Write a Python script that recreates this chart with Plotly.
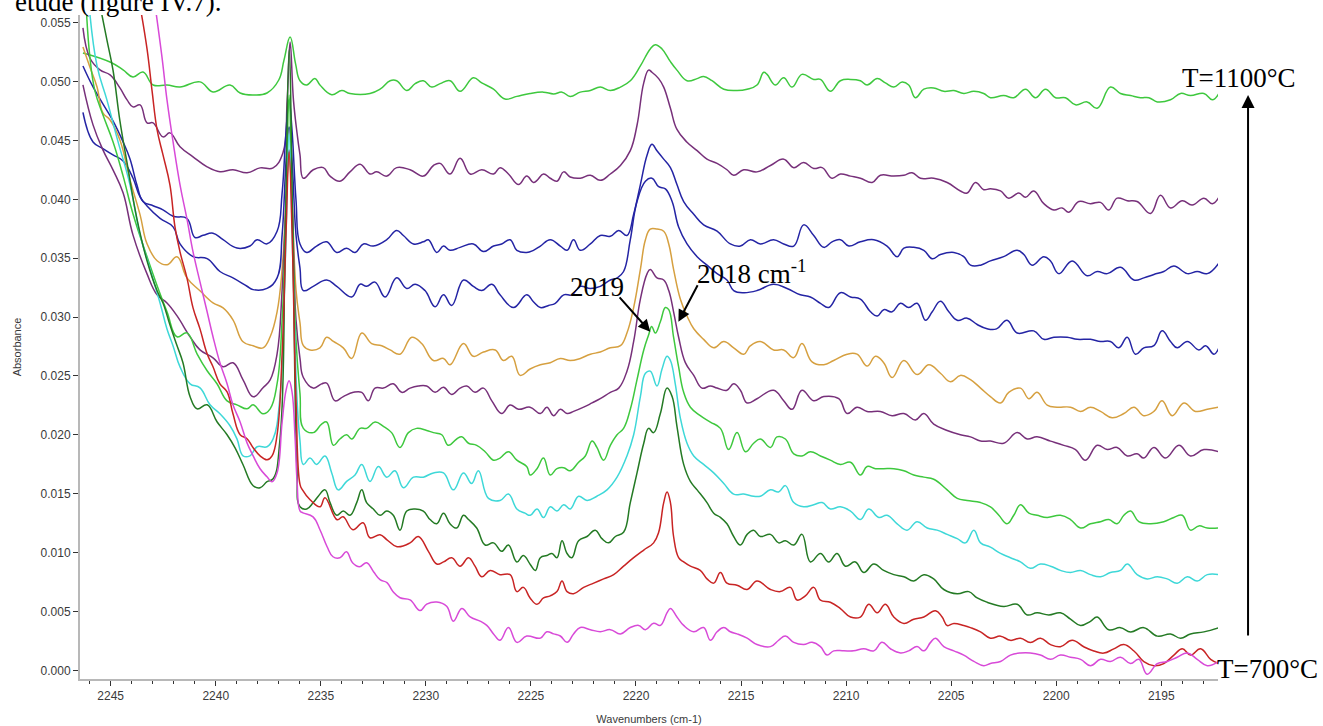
import plotly.graph_objects as go

# ---------------- data ----------------
# wavenumbers (cm-1) and absorbance for each spectrum, top (1100 C) to bottom (700 C)
wn_t1 = [2246.32, 2245.03, 2244.41, 2243.94, 2243.46, 2242.98, 2242.32, 2241.70, 2240.75, 2240.13,
         2239.32, 2238.84, 2238.22, 2237.56, 2237.0, 2236.75, 2236.46, 2236.2, 2235.99, 2235.67,
         2235.28, 2235.04, 2234.48, 2234.0, 2233.61, 2232.66, 2232.18, 2231.70, 2231.39, 2230.91,
         2230.51, 2230.12, 2229.72, 2229.32, 2228.85, 2228.37, 2227.74, 2227.34, 2226.78, 2226.23,
         2225.67, 2225.04, 2224.40, 2223.92, 2223.52, 2223.13, 2222.65, 2222.17, 2221.70, 2221.22,
         2220.74, 2220.27, 2219.79, 2219.32, 2219.08, 2218.76, 2218.36, 2218.05, 2217.57, 2217.09,
         2216.78, 2216.38, 2215.82, 2215.19, 2214.71, 2214.24, 2213.92, 2213.76, 2213.37, 2212.97,
         2212.57, 2212.10, 2211.54, 2211.22, 2210.75, 2210.27, 2209.79, 2209.32, 2209.0, 2208.52,
         2208.13, 2207.73, 2207.33, 2207.02, 2206.70, 2206.30, 2205.83, 2205.35, 2204.87, 2204.40,
         2203.92, 2203.45, 2203.13, 2202.50, 2202.02, 2201.46, 2200.99, 2200.51, 2200.03, 2199.56,
         2199.08, 2198.53, 2198.05, 2197.42, 2196.94, 2196.46, 2195.99, 2195.59, 2195.19, 2194.56,
         2194.08, 2193.61, 2192.97, 2192.57, 2192.26]
ab_t1 = [0.05243, 0.05166, 0.05099, 0.05039, 0.05081, 0.04971, 0.04971, 0.04954, 0.04997, 0.04912,
         0.04971, 0.04903, 0.04886, 0.04903, 0.05013, 0.05183, 0.05379, 0.05150, 0.05007, 0.04971,
         0.05025, 0.04971, 0.04888, 0.04924, 0.04899, 0.04899, 0.04935, 0.05007, 0.05007, 0.04924,
         0.04982, 0.05007, 0.04953, 0.04982, 0.05007, 0.04917, 0.05032, 0.04989, 0.04935, 0.04852,
         0.04874, 0.04899, 0.04910, 0.04895, 0.04910, 0.04874, 0.04910, 0.04924, 0.04953, 0.04924,
         0.04953, 0.05007, 0.05133, 0.05277, 0.05313, 0.05277, 0.05169, 0.05097, 0.05007, 0.05025,
         0.05043, 0.05007, 0.04935, 0.04924, 0.04935, 0.04971, 0.05079, 0.05061, 0.04971, 0.05032,
         0.04953, 0.05061, 0.05018, 0.05018, 0.04917, 0.05007, 0.05018, 0.05007, 0.04971, 0.05025,
         0.04989, 0.04953, 0.04996, 0.04971, 0.04863, 0.04935, 0.04946, 0.04917, 0.04924, 0.04899,
         0.04917, 0.04899, 0.04863, 0.04881, 0.04863, 0.04935, 0.04863, 0.04935, 0.04863, 0.04863,
         0.04802, 0.04827, 0.04773, 0.04953, 0.04899, 0.04881, 0.04863, 0.04863, 0.04827, 0.04845,
         0.04899, 0.04881, 0.04899, 0.04845, 0.04899]

wn_t2 = [2246.32, 2245.99, 2245.51, 2245.03, 2244.56, 2244.22, 2243.94, 2243.60, 2243.27, 2242.98,
         2242.51, 2242.18, 2241.70, 2241.08, 2240.41, 2239.80, 2239.18, 2238.51, 2237.89, 2237.27,
         2236.80, 2236.6, 2236.46, 2236.3, 2236.1, 2235.99, 2235.83, 2235.36, 2234.88, 2234.56,
         2234.09, 2233.61, 2233.13, 2232.66, 2232.34, 2231.86, 2231.39, 2230.75, 2230.12, 2229.64,
         2229.32, 2228.85, 2228.37, 2227.89, 2227.34, 2226.78, 2226.47, 2226.07, 2225.59, 2225.20,
         2224.88, 2224.71, 2224.40, 2224.08, 2223.76, 2223.44, 2223.13, 2222.65, 2222.17, 2221.70,
         2221.22, 2220.74, 2220.27, 2219.95, 2219.63, 2219.40, 2219.24, 2218.92, 2218.68, 2218.36,
         2218.05, 2217.57, 2217.09, 2216.62, 2216.14, 2215.67, 2215.35, 2214.87, 2214.24, 2213.60,
         2212.97, 2212.49, 2212.02, 2211.54, 2211.14, 2210.67, 2210.27, 2209.79, 2209.32, 2208.76,
         2208.37, 2207.73, 2207.25, 2206.86, 2206.46, 2205.83, 2205.19, 2204.56, 2204.24, 2203.84,
         2203.45, 2203.13, 2202.65, 2202.26, 2201.78, 2201.46, 2201.07, 2200.59, 2200.11, 2199.72,
         2199.40, 2198.92, 2198.37, 2197.89, 2197.50, 2197.10, 2196.62, 2196.15, 2195.51, 2195.04,
         2194.56, 2194.00, 2193.53, 2192.97, 2192.57, 2192.26]
ab_t2 = [0.05455, 0.05200, 0.05099, 0.05056, 0.04946, 0.04844, 0.04785, 0.04802, 0.04649, 0.04649,
         0.04530, 0.04564, 0.04446, 0.04361, 0.04276, 0.04234, 0.04251, 0.04225, 0.04267, 0.04267,
         0.04395, 0.04844, 0.05336, 0.04840, 0.04520, 0.04377, 0.04179, 0.04251, 0.04269, 0.04197,
         0.04154, 0.04233, 0.04298, 0.04215, 0.04233, 0.04197, 0.04269, 0.04251, 0.04197, 0.04287,
         0.04305, 0.04215, 0.04348, 0.04215, 0.04251, 0.04215, 0.04269, 0.04215, 0.04125, 0.04197,
         0.04143, 0.04161, 0.04215, 0.04179, 0.04154, 0.04233, 0.04190, 0.04179, 0.04204, 0.04161,
         0.04215, 0.04287, 0.04413, 0.04629, 0.04989, 0.05097, 0.05079, 0.05025, 0.04953, 0.04773,
         0.04593, 0.04485, 0.04413, 0.04341, 0.04305, 0.04251, 0.04204, 0.04251, 0.04233, 0.04287,
         0.04341, 0.04269, 0.04312, 0.04262, 0.04269, 0.04179, 0.04215, 0.04197, 0.04179, 0.04143,
         0.04204, 0.04197, 0.04204, 0.04226, 0.04179, 0.04179, 0.04143, 0.04071, 0.04053, 0.04143,
         0.04082, 0.04089, 0.04071, 0.04010, 0.04053, 0.04017, 0.04071, 0.03963, 0.03909, 0.03927,
         0.03891, 0.03981, 0.03963, 0.03974, 0.03909, 0.04010, 0.03988, 0.03981, 0.03880, 0.04035,
         0.03927, 0.03988, 0.03952, 0.04010, 0.03963, 0.04017]

wn_t3 = [2246.32, 2245.84, 2245.37, 2244.89, 2244.41, 2244.08, 2243.75, 2243.46, 2242.98, 2242.51,
         2242.03, 2241.37, 2240.99, 2240.60, 2240.13, 2239.65, 2238.99, 2238.37, 2238.03, 2237.56,
         2237.08, 2236.84, 2236.65, 2236.51, 2236.37, 2236.18, 2235.99, 2235.67, 2235.20, 2234.72,
         2234.24, 2233.77, 2233.37, 2232.97, 2232.50, 2231.86, 2231.39, 2231.07, 2230.59, 2230.12,
         2229.88, 2229.48, 2229.16, 2228.85, 2228.37, 2227.74, 2227.26, 2226.78, 2226.39, 2225.99,
         2225.67, 2225.20, 2224.88, 2224.55, 2224.08, 2223.60, 2223.28, 2222.97, 2222.65, 2222.17,
         2221.70, 2221.22, 2220.82, 2220.43, 2220.11, 2219.79, 2219.47, 2219.24, 2219.0, 2218.68,
         2218.36, 2218.05, 2217.73, 2217.25, 2216.78, 2216.14, 2215.51, 2215.03, 2214.55, 2214.08,
         2213.45, 2212.97, 2212.49, 2212.02, 2211.54, 2211.06, 2210.67, 2210.27, 2209.87, 2209.32,
         2208.68, 2208.05, 2207.57, 2207.25, 2206.78, 2206.30, 2205.90, 2205.51, 2204.87, 2204.40,
         2204.08, 2203.60, 2203.13, 2202.50, 2201.86, 2201.54, 2201.15, 2200.59, 2200.27, 2199.88,
         2199.24, 2198.53, 2198.05, 2197.57, 2196.94, 2196.30, 2195.83, 2195.35, 2194.88, 2194.40,
         2193.76, 2193.29, 2192.81, 2192.26]
ab_t3 = [0.05132, 0.04954, 0.04810, 0.04666, 0.04488, 0.04343, 0.04122, 0.03982, 0.03945, 0.03911,
         0.03856, 0.03837, 0.03676, 0.03694, 0.03712, 0.03657, 0.03586, 0.03604, 0.03657, 0.03622,
         0.03729, 0.04055, 0.04589, 0.04844, 0.04589, 0.03995, 0.03621, 0.03549, 0.03603, 0.03639,
         0.03549, 0.03585, 0.03549, 0.03621, 0.03603, 0.03657, 0.03736, 0.03693, 0.03621, 0.03639,
         0.03657, 0.03549, 0.03603, 0.03567, 0.03592, 0.03621, 0.03556, 0.03603, 0.03621, 0.03657,
         0.03567, 0.03549, 0.03567, 0.03603, 0.03657, 0.03603, 0.03567, 0.03657, 0.03567, 0.03621,
         0.03693, 0.03686, 0.03736, 0.03693, 0.03873, 0.04125, 0.04377, 0.04467, 0.04413, 0.04341,
         0.04269, 0.04125, 0.03981, 0.03873, 0.03783, 0.03729, 0.03621, 0.03603, 0.03657, 0.03621,
         0.03657, 0.03621, 0.03603, 0.03783, 0.03693, 0.03592, 0.03639, 0.03657, 0.03603, 0.03639,
         0.03657, 0.03603, 0.03513, 0.03585, 0.03592, 0.03567, 0.03495, 0.03531, 0.03549, 0.03513,
         0.03441, 0.03441, 0.03477, 0.03513, 0.03567, 0.03531, 0.03441, 0.03513, 0.03477, 0.03369,
         0.03477, 0.03351, 0.03387, 0.03369, 0.03423, 0.03315, 0.03333, 0.03362, 0.03387, 0.03434,
         0.03369, 0.03387, 0.03369, 0.03459]

wn_t4 = [2246.32, 2245.84, 2245.37, 2244.89, 2244.41, 2243.94, 2243.60, 2243.27, 2242.65, 2242.03,
         2241.70, 2241.08, 2240.41, 2239.80, 2239.18, 2238.51, 2238.22, 2237.56, 2237.08, 2236.84,
         2236.65, 2236.51, 2236.37, 2236.18, 2235.99, 2235.83, 2235.36, 2234.72, 2234.24, 2233.53,
         2233.13, 2232.82, 2232.42, 2231.94, 2231.39, 2230.91, 2230.51, 2230.04, 2229.56, 2229.16,
         2228.77, 2228.21, 2227.74, 2227.34, 2226.86, 2226.47, 2225.83, 2225.20, 2224.88, 2224.55,
         2224.16, 2223.84, 2223.44, 2223.05, 2222.65, 2222.17, 2221.70, 2221.22, 2220.90, 2220.59,
         2220.27, 2219.95, 2219.55, 2219.24, 2218.92, 2218.60, 2218.28, 2217.97, 2217.57, 2217.09,
         2216.62, 2216.14, 2215.67, 2215.35, 2214.87, 2214.24, 2213.45, 2212.81, 2212.18, 2211.70,
         2211.22, 2210.83, 2210.27, 2209.79, 2209.32, 2208.84, 2208.52, 2208.21, 2207.81, 2207.41,
         2207.02, 2206.62, 2206.22, 2205.90, 2205.51, 2205.11, 2204.71, 2204.24, 2203.76, 2203.29,
         2202.84, 2202.34, 2201.86, 2201.07, 2200.59, 2200.11, 2199.48, 2199.00, 2198.37, 2197.89,
         2197.42, 2197.02, 2196.62, 2196.23, 2195.83, 2195.35, 2194.96, 2194.56, 2194.24, 2193.76,
         2193.21, 2192.89, 2192.49, 2192.26]
ab_t4 = [0.04738, 0.04487, 0.04431, 0.04377, 0.04326, 0.04181, 0.04020, 0.03944, 0.03838, 0.03766,
         0.03621, 0.03514, 0.03496, 0.03387, 0.03333, 0.03262, 0.03233, 0.03244, 0.03333, 0.03698,
         0.04335, 0.04614, 0.04335, 0.03698, 0.03416, 0.03225, 0.03261, 0.03315, 0.03261, 0.03171,
         0.03279, 0.03261, 0.03297, 0.03171, 0.03333, 0.03243, 0.03279, 0.03225, 0.03088, 0.03189,
         0.03099, 0.03315, 0.03261, 0.03225, 0.03279, 0.03189, 0.03081, 0.03189, 0.03130, 0.03081,
         0.03099, 0.03117, 0.03189, 0.03189, 0.03261, 0.03243, 0.03261, 0.03315, 0.03333, 0.03387,
         0.03657, 0.03981, 0.04154, 0.04179, 0.04107, 0.04089, 0.03981, 0.03765, 0.03621, 0.03513,
         0.03441, 0.03369, 0.03315, 0.03225, 0.03207, 0.03225, 0.03279, 0.03243, 0.03189, 0.03171,
         0.03117, 0.03081, 0.03207, 0.03171, 0.03153, 0.03045, 0.03009, 0.03063, 0.03045, 0.03117,
         0.03081, 0.03117, 0.02973, 0.03045, 0.03135, 0.03045, 0.02973, 0.02991, 0.02937, 0.02901,
         0.02900, 0.02973, 0.02865, 0.02883, 0.02811, 0.02829, 0.02829, 0.02811, 0.02811, 0.02793,
         0.02793, 0.02739, 0.02829, 0.02685, 0.02739, 0.02757, 0.02883, 0.02793, 0.02739, 0.02793,
         0.02721, 0.02757, 0.02685, 0.02739]

wn_t5 = [2246.32, 2245.99, 2245.65, 2245.37, 2245.03, 2244.56, 2244.08, 2243.60, 2243.27, 2242.79,
         2242.32, 2241.84, 2241.37, 2240.75, 2240.13, 2239.65, 2239.18, 2238.70, 2238.22, 2237.75,
         2237.41, 2237.08, 2236.84, 2236.65, 2236.51, 2236.37, 2236.18, 2235.99, 2235.83, 2235.51,
         2235.04, 2234.72, 2234.40, 2233.93, 2233.53, 2233.05, 2232.58, 2232.10, 2231.70, 2231.23,
         2230.67, 2230.20, 2229.64, 2229.16, 2228.85, 2228.21, 2227.74, 2227.26, 2226.70, 2226.31,
         2225.91, 2225.51, 2225.04, 2224.55, 2224.08, 2223.60, 2223.13, 2222.65, 2222.17, 2221.70,
         2221.22, 2220.74, 2220.43, 2220.11, 2219.79, 2219.55, 2219.32, 2219.0, 2218.68, 2218.44,
         2218.21, 2217.89, 2217.57, 2217.25, 2216.78, 2216.30, 2215.82, 2215.35, 2214.87, 2214.55,
         2214.08, 2213.45, 2212.97, 2212.49, 2212.10, 2211.62, 2211.06, 2210.59, 2209.95, 2209.48,
         2209.0, 2208.60, 2208.21, 2207.81, 2207.25, 2206.62, 2206.06, 2205.51, 2205.03, 2204.56,
         2204.08, 2203.60, 2203.13, 2202.65, 2202.26, 2201.70, 2201.30, 2200.91, 2200.43, 2199.96,
         2199.32, 2198.84, 2198.37, 2197.89, 2197.34, 2196.78, 2196.30, 2195.83, 2195.35, 2194.96,
         2194.48, 2193.92, 2193.37, 2192.81, 2192.26]
ab_t5 = [0.05293, 0.05124, 0.04954, 0.04733, 0.04674, 0.04504, 0.04165, 0.03868, 0.03622, 0.03478,
         0.03444, 0.03512, 0.03333, 0.03223, 0.03121, 0.03078, 0.02977, 0.02790, 0.02756, 0.02739,
         0.02833, 0.03045, 0.03409, 0.03995, 0.04376, 0.03995, 0.03231, 0.02950, 0.02757, 0.02721,
         0.02739, 0.02829, 0.02793, 0.02739, 0.02649, 0.02865, 0.02775, 0.02757, 0.02721, 0.02685,
         0.02829, 0.02775, 0.02631, 0.02649, 0.02595, 0.02775, 0.02667, 0.02703, 0.02721, 0.02631,
         0.02667, 0.02505, 0.02559, 0.02595, 0.02613, 0.02649, 0.02631, 0.02649, 0.02685, 0.02703,
         0.02739, 0.02757, 0.02865, 0.03081, 0.03405, 0.03657, 0.03747, 0.03747, 0.03729, 0.03621,
         0.03405, 0.03153, 0.03009, 0.02901, 0.02811, 0.02739, 0.02793, 0.02739, 0.02685, 0.02757,
         0.02793, 0.02721, 0.02721, 0.02656, 0.02775, 0.02620, 0.02595, 0.02631, 0.02685, 0.02685,
         0.02584, 0.02667, 0.02613, 0.02487, 0.02631, 0.02512, 0.02595, 0.02523, 0.02451, 0.02505,
         0.02469, 0.02397, 0.02325, 0.02271, 0.02361, 0.02397, 0.02307, 0.02361, 0.02253, 0.02235,
         0.02235, 0.02199, 0.02235, 0.02199, 0.02145, 0.02181, 0.02235, 0.02163, 0.02199, 0.02289,
         0.02163, 0.02271, 0.02199, 0.02217, 0.02235]

wn_t6 = [2246.32, 2245.84, 2245.37, 2244.89, 2244.41, 2243.94, 2243.27, 2242.79, 2242.32, 2241.84,
         2241.22, 2240.75, 2240.13, 2239.65, 2239.18, 2238.70, 2238.22, 2237.75, 2237.41, 2237.08,
         2236.84, 2236.65, 2236.51, 2236.37, 2236.18, 2235.99, 2235.83, 2235.36, 2234.96, 2234.72,
         2234.32, 2233.93, 2233.45, 2233.05, 2232.74, 2232.42, 2232.02, 2231.55, 2231.15, 2230.75,
         2230.36, 2229.96, 2229.56, 2229.16, 2228.77, 2228.37, 2228.05, 2227.66, 2227.26, 2226.86,
         2226.39, 2225.99, 2225.59, 2225.04, 2224.55, 2224.24, 2223.92, 2223.60, 2223.28, 2222.97,
         2222.49, 2222.09, 2221.70, 2221.22, 2220.82, 2220.43, 2220.11, 2219.79, 2219.47, 2219.32,
         2219.0, 2218.68, 2218.44, 2218.21, 2217.97, 2217.65, 2217.25, 2216.86, 2216.46, 2216.14,
         2215.67, 2215.35, 2215.03, 2214.71, 2214.24, 2213.45, 2212.97, 2212.57, 2212.10, 2211.54,
         2211.06, 2210.35, 2209.95, 2209.48, 2209.0, 2208.37, 2207.81, 2207.25, 2206.70, 2206.30,
         2205.83, 2205.19, 2204.56, 2204.08, 2203.60, 2203.13, 2202.50, 2201.86, 2201.38, 2200.91,
         2200.27, 2199.64, 2199.08, 2198.61, 2198.05, 2197.57, 2197.10, 2196.62, 2196.15, 2195.83,
         2195.35, 2194.80, 2194.16, 2193.61, 2192.97, 2192.26]
ab_t6 = [0.04972, 0.04632, 0.04420, 0.04250, 0.04055, 0.03698, 0.03367, 0.03189, 0.03120, 0.03010,
         0.02832, 0.02722, 0.02654, 0.02578, 0.02612, 0.02467, 0.02323, 0.02400, 0.02467, 0.02688,
         0.03231, 0.03995, 0.04419, 0.03995, 0.02977, 0.02650, 0.02487, 0.02397, 0.02433, 0.02440,
         0.02289, 0.02325, 0.02361, 0.02361, 0.02289, 0.02397, 0.02397, 0.02433, 0.02361, 0.02397,
         0.02415, 0.02415, 0.02361, 0.02404, 0.02343, 0.02397, 0.02415, 0.02361, 0.02397, 0.02289,
         0.02181, 0.02253, 0.02217, 0.02235, 0.02181, 0.02235, 0.02163, 0.02217, 0.02181, 0.02199,
         0.02235, 0.02271, 0.02307, 0.02361, 0.02397, 0.02541, 0.02793, 0.03153, 0.03369, 0.03405,
         0.03333, 0.03315, 0.03225, 0.03045, 0.02829, 0.02613, 0.02505, 0.02397, 0.02415, 0.02397,
         0.02379, 0.02433, 0.02379, 0.02271, 0.02307, 0.02379, 0.02289, 0.02217, 0.02379, 0.02289,
         0.02325, 0.02307, 0.02181, 0.02235, 0.02199, 0.02199, 0.02163, 0.02181, 0.02127, 0.02181,
         0.02091, 0.02037, 0.02001, 0.01983, 0.01947, 0.01947, 0.01929, 0.02019, 0.01965, 0.01983,
         0.01947, 0.01911, 0.01875, 0.01785, 0.01911, 0.01875, 0.01893, 0.01821, 0.01839, 0.01803,
         0.01893, 0.01803, 0.01911, 0.01821, 0.01875, 0.01857]

wn_t7 = [2246.17, 2245.99, 2245.75, 2245.37, 2244.89, 2244.41, 2243.94, 2243.27, 2242.79, 2242.32,
         2241.84, 2241.37, 2240.89, 2240.41, 2239.94, 2239.46, 2238.99, 2238.51, 2238.22, 2237.75,
         2237.41, 2237.08, 2236.84, 2236.65, 2236.51, 2236.37, 2236.18, 2235.99, 2235.83, 2235.36,
         2234.96, 2234.72, 2234.40, 2234.09, 2233.77, 2233.53, 2233.13, 2232.82, 2232.42, 2232.02,
         2231.63, 2231.23, 2230.83, 2230.44, 2229.96, 2229.64, 2229.24, 2228.93, 2228.53, 2228.29,
         2227.97, 2227.58, 2227.18, 2226.78, 2226.47, 2226.07, 2225.67, 2225.20, 2225.03, 2224.71,
         2224.40, 2224.08, 2223.76, 2223.44, 2223.13, 2222.73, 2222.41, 2222.09, 2221.86, 2221.54,
         2221.22, 2220.90, 2220.59, 2220.27, 2219.95, 2219.63, 2219.40, 2219.25, 2219.08, 2218.84,
         2218.60, 2218.44, 2218.21, 2217.97, 2217.73, 2217.41, 2216.94, 2216.46, 2215.98, 2215.59,
         2215.19, 2214.79, 2214.40, 2214.08, 2213.60, 2213.29, 2212.89, 2212.49, 2212.10, 2211.70,
         2211.22, 2210.75, 2210.27, 2209.79, 2209.32, 2209.0, 2208.60, 2208.21, 2207.73, 2207.25,
         2206.78, 2206.30, 2205.83, 2205.19, 2204.71, 2204.24, 2203.60, 2203.13, 2202.73, 2202.34,
         2202.02, 2201.70, 2201.30, 2200.91, 2200.43, 2199.80, 2199.32, 2198.84, 2198.37, 2197.89,
         2197.50, 2197.10, 2196.78, 2196.46, 2196.07, 2195.51, 2194.88, 2194.40, 2194.00, 2193.61,
         2193.21, 2192.81, 2192.26]
ab_t7 = [0.05650, 0.05209, 0.04921, 0.04717, 0.04488, 0.04199, 0.03877, 0.03512, 0.03266, 0.03045,
         0.02833, 0.02866, 0.02688, 0.02544, 0.02434, 0.02289, 0.02255, 0.02221, 0.02255, 0.02179,
         0.02221, 0.02434, 0.02977, 0.03995, 0.04886, 0.03995, 0.02807, 0.02350, 0.02055, 0.02019,
         0.02091, 0.02109, 0.01911, 0.01965, 0.02001, 0.01965, 0.02055, 0.02055, 0.02109, 0.02073,
         0.02019, 0.01893, 0.02019, 0.02055, 0.02037, 0.02019, 0.02001, 0.01911, 0.01965, 0.01983,
         0.01929, 0.01911, 0.01857, 0.01785, 0.01803, 0.01857, 0.01785, 0.01731, 0.01659, 0.01713,
         0.01803, 0.01659, 0.01713, 0.01721, 0.01695, 0.01767, 0.01821, 0.01947, 0.01893, 0.01785,
         0.01911, 0.02001, 0.02055, 0.02217, 0.02469, 0.02721, 0.02847, 0.02920, 0.02865, 0.02960,
         0.03081, 0.03063, 0.02829, 0.02577, 0.02361, 0.02235, 0.02163, 0.02109, 0.02055, 0.01875,
         0.02019, 0.01857, 0.01929, 0.01965, 0.01893, 0.01983, 0.01965, 0.01839, 0.01821, 0.01857,
         0.01821, 0.01785, 0.01749, 0.01767, 0.01659, 0.01731, 0.01713, 0.01713, 0.01713, 0.01695,
         0.01659, 0.01641, 0.01623, 0.01533, 0.01461, 0.01443, 0.01425, 0.01389, 0.01317, 0.01245,
         0.01317, 0.01407, 0.01335, 0.01317, 0.01299, 0.01317, 0.01281, 0.01209, 0.01245, 0.01263,
         0.01281, 0.01245, 0.01317, 0.01353, 0.01263, 0.01245, 0.01263, 0.01299, 0.01317, 0.01191,
         0.01227, 0.01209, 0.01209]

wn_t8 = [2246.03, 2245.65, 2245.18, 2244.70, 2244.08, 2243.60, 2243.13, 2242.65, 2242.32, 2242.03,
         2241.70, 2241.22, 2240.75, 2240.27, 2239.80, 2239.32, 2238.99, 2238.70, 2238.37, 2238.03,
         2237.56, 2237.27, 2236.94, 2236.70, 2236.51, 2236.32, 2236.13, 2235.99, 2235.83, 2235.51,
         2235.20, 2234.80, 2234.48, 2234.17, 2233.77, 2233.37, 2233.05, 2232.66, 2232.26, 2231.86,
         2231.47, 2231.07, 2230.59, 2230.12, 2229.64, 2229.16, 2228.69, 2228.21, 2227.82, 2227.50,
         2227.02, 2226.47, 2226.07, 2225.67, 2225.28, 2225.03, 2224.71, 2224.40, 2224.08, 2223.76,
         2223.44, 2223.13, 2222.73, 2222.33, 2221.86, 2221.38, 2220.90, 2220.43, 2220.11, 2219.79,
         2219.55, 2219.32, 2219.0, 2218.76, 2218.52, 2218.36, 2218.13, 2217.89, 2217.57, 2217.25,
         2216.78, 2216.30, 2215.82, 2215.35, 2214.87, 2214.40, 2214.08, 2213.60, 2213.21, 2212.89,
         2212.49, 2212.02, 2211.54, 2211.14, 2210.75, 2210.27, 2209.79, 2209.32, 2208.92, 2208.44,
         2208.05, 2207.57, 2207.10, 2206.62, 2206.14, 2205.67, 2205.19, 2204.71, 2204.32, 2203.92,
         2203.60, 2203.13, 2202.65, 2202.18, 2201.70, 2201.23, 2200.75, 2200.27, 2199.80, 2199.32,
         2198.84, 2198.37, 2197.89, 2197.42, 2196.94, 2196.62, 2196.15, 2195.67, 2195.19, 2194.72,
         2194.24, 2193.76, 2193.29, 2192.81, 2192.26]
ab_t8 = [0.05650, 0.05133, 0.04844, 0.04522, 0.04123, 0.03698, 0.03409, 0.03120, 0.02899, 0.02755,
         0.02577, 0.02433, 0.02399, 0.02255, 0.02179, 0.02077, 0.01966, 0.01822, 0.01822, 0.01899,
         0.01899, 0.01966, 0.02323, 0.03409, 0.04555, 0.03409, 0.02298, 0.01950, 0.01749, 0.01803,
         0.01749, 0.01821, 0.01677, 0.01533, 0.01605, 0.01659, 0.01749, 0.01605, 0.01731, 0.01641,
         0.01695, 0.01551, 0.01641, 0.01641, 0.01677, 0.01677, 0.01533, 0.01677, 0.01587, 0.01695,
         0.01461, 0.01443, 0.01497, 0.01371, 0.01335, 0.01317, 0.01371, 0.01299, 0.01389, 0.01353,
         0.01407, 0.01371, 0.01479, 0.01443, 0.01479, 0.01533, 0.01641, 0.01821, 0.02001, 0.02325,
         0.02523, 0.02541, 0.02415, 0.02559, 0.02667, 0.02631, 0.02433, 0.02145, 0.01929, 0.01821,
         0.01749, 0.01677, 0.01587, 0.01497, 0.01497, 0.01479, 0.01479, 0.01533, 0.01515, 0.01569,
         0.01425, 0.01389, 0.01407, 0.01425, 0.01371, 0.01389, 0.01353, 0.01281, 0.01371, 0.01299,
         0.01317, 0.01245, 0.01191, 0.01263, 0.01209, 0.01191, 0.01155, 0.01119, 0.01083, 0.01191,
         0.01083, 0.01047, 0.00993, 0.00957, 0.00921, 0.00867, 0.00903, 0.00885, 0.00849, 0.00831,
         0.00849, 0.00813, 0.00795, 0.00831, 0.00849, 0.00903, 0.00813, 0.00777, 0.00795, 0.00777,
         0.00741, 0.00795, 0.00759, 0.00813, 0.00813]

wn_t9 = [2245.51, 2245.18, 2244.89, 2244.56, 2244.22, 2243.75, 2243.27, 2242.79, 2242.51, 2242.18,
         2241.84, 2241.56, 2241.22, 2240.89, 2240.41, 2239.94, 2239.46, 2239.08, 2238.70, 2238.22,
         2237.89, 2237.56, 2237.27, 2236.94, 2236.70, 2236.51, 2236.32, 2236.13, 2235.99, 2235.67,
         2235.36, 2235.12, 2234.80, 2234.56, 2234.24, 2233.93, 2233.61, 2233.29, 2233.05, 2232.82,
         2232.50, 2232.18, 2231.86, 2231.55, 2231.23, 2230.91, 2230.51, 2230.12, 2229.80, 2229.48,
         2229.16, 2228.85, 2228.53, 2228.21, 2227.97, 2227.58, 2227.18, 2226.78, 2226.39, 2226.07,
         2225.67, 2225.36, 2225.03, 2224.79, 2224.55, 2224.24, 2224.0, 2223.76, 2223.52, 2223.28,
         2223.05, 2222.73, 2222.33, 2221.94, 2221.62, 2221.30, 2220.98, 2220.59, 2220.27, 2219.95,
         2219.63, 2219.40, 2219.16, 2218.84, 2218.52, 2218.28, 2218.05, 2217.73, 2217.41, 2217.09,
         2216.62, 2216.30, 2215.98, 2215.67, 2215.35, 2215.03, 2214.71, 2214.40, 2214.08, 2213.60,
         2213.21, 2212.89, 2212.49, 2212.10, 2211.70, 2211.22, 2210.83, 2210.43, 2210.03, 2209.56,
         2209.16, 2208.68, 2208.21, 2207.73, 2207.25, 2206.78, 2206.30, 2205.83, 2205.35, 2204.71,
         2204.16, 2203.76, 2203.29, 2202.50, 2201.86, 2201.38, 2200.91, 2200.35, 2199.80, 2199.32,
         2198.84, 2198.37, 2198.05, 2197.50, 2196.94, 2196.46, 2195.83, 2195.19, 2194.56, 2194.08,
         2193.61, 2192.97, 2192.26]
ab_t9 = [0.05650, 0.05353, 0.05098, 0.04666, 0.04309, 0.03834, 0.03478, 0.03223, 0.03120, 0.02934,
         0.02756, 0.02612, 0.02324, 0.02221, 0.02255, 0.02111, 0.02001, 0.01890, 0.01746, 0.01568,
         0.01551, 0.01602, 0.01627, 0.01967, 0.03571, 0.05268, 0.03571, 0.01704, 0.01389, 0.01371,
         0.01425, 0.01479, 0.01533, 0.01425, 0.01317, 0.01353, 0.01317, 0.01425, 0.01533, 0.01425,
         0.01371, 0.01317, 0.01353, 0.01317, 0.01191, 0.01353, 0.01371, 0.01353, 0.01281, 0.01245,
         0.01335, 0.01245, 0.01209, 0.01317, 0.01281, 0.01209, 0.01065, 0.01083, 0.01011, 0.01065,
         0.00921, 0.00975, 0.00900, 0.00849, 0.00957, 0.00975, 0.00993, 0.00957, 0.01101, 0.00993,
         0.00957, 0.01101, 0.01137, 0.01191, 0.01119, 0.01083, 0.01137, 0.01173, 0.01425, 0.01677,
         0.01929, 0.02055, 0.02019, 0.02181, 0.02397, 0.02325, 0.02073, 0.01749, 0.01605, 0.01533,
         0.01425, 0.01335, 0.01299, 0.01245, 0.01137, 0.01065, 0.01155, 0.01191, 0.01137, 0.01155,
         0.01083, 0.01101, 0.01065, 0.01155, 0.00921, 0.00993, 0.00921, 0.00993, 0.00885, 0.00921,
         0.00831, 0.00903, 0.00849, 0.00813, 0.00795, 0.00759, 0.00813, 0.00777, 0.00687, 0.00651,
         0.00669, 0.00615, 0.00579, 0.00543, 0.00561, 0.00471, 0.00489, 0.00471, 0.00489, 0.00435,
         0.00381, 0.00417, 0.00453, 0.00345, 0.00363, 0.00327, 0.00363, 0.00291, 0.00309, 0.00273,
         0.00309, 0.00327, 0.00363]

wn_t10 = [2243.61, 2243.27, 2243.03, 2242.79, 2242.51, 2242.18, 2241.94, 2241.70, 2241.37, 2241.08,
          2240.75, 2240.41, 2240.13, 2239.80, 2239.46, 2239.18, 2238.84, 2238.51, 2238.22, 2237.89,
          2237.56, 2237.32, 2237.08, 2236.84, 2236.65, 2236.51, 2236.37, 2236.18, 2235.99, 2235.88,
          2235.51, 2235.04, 2234.80, 2234.22, 2233.94, 2233.47, 2232.99, 2232.66, 2232.18, 2231.85,
          2231.37, 2230.75, 2230.36, 2229.88, 2229.48, 2229.16, 2228.77, 2228.37, 2227.97, 2227.66,
          2227.34, 2226.94, 2226.47, 2225.99, 2225.67, 2225.36, 2225.04, 2224.71, 2224.40, 2224.08,
          2223.76, 2223.52, 2223.28, 2222.97, 2222.49, 2222.01, 2221.54, 2221.06, 2220.59, 2220.11,
          2219.63, 2219.16, 2218.92, 2218.68, 2218.52, 2218.36, 2218.21, 2217.97, 2217.73, 2217.41,
          2216.94, 2216.62, 2216.30, 2215.98, 2215.67, 2215.19, 2214.71, 2214.24, 2213.60, 2213.13,
          2212.65, 2212.33, 2211.94, 2211.54, 2211.22, 2210.75, 2210.27, 2209.79, 2209.32, 2208.92,
          2208.52, 2208.13, 2207.73, 2207.25, 2206.78, 2206.30, 2205.75, 2205.43, 2205.19, 2204.87,
          2204.40, 2204.08, 2203.60, 2203.13, 2202.65, 2202.18, 2201.70, 2201.23, 2200.75, 2200.27,
          2199.80, 2199.24, 2198.69, 2198.21, 2197.73, 2197.26, 2196.78, 2196.30, 2195.83, 2195.35,
          2194.88, 2194.40, 2194.00, 2193.61, 2193.13, 2192.65, 2192.26]
ab_t10 = [0.05650, 0.05277, 0.04920, 0.04589, 0.04377, 0.04122, 0.03766, 0.03553, 0.03333, 0.03078,
          0.02900, 0.02688, 0.02578, 0.02433, 0.02365, 0.02179, 0.02001, 0.01967, 0.01890, 0.01822,
          0.01788, 0.01822, 0.02001, 0.02688, 0.03739, 0.04401, 0.03739, 0.02298, 0.01580, 0.01534,
          0.01449, 0.01389, 0.01466, 0.01279, 0.01304, 0.01194, 0.01254, 0.01126, 0.01152, 0.01109,
          0.01050, 0.01083, 0.01137, 0.01011, 0.00903, 0.00921, 0.00957, 0.00885, 0.00957, 0.00885,
          0.00795, 0.00849, 0.00813, 0.00813, 0.00669, 0.00705, 0.00615, 0.00561, 0.00615, 0.00633,
          0.00669, 0.00759, 0.00669, 0.00651, 0.00705, 0.00741, 0.00777, 0.00813, 0.00885, 0.00957,
          0.01022, 0.01083, 0.01173, 0.01425, 0.01515, 0.01425, 0.01137, 0.00957, 0.00921, 0.00885,
          0.00849, 0.00777, 0.00741, 0.00831, 0.00741, 0.00723, 0.00687, 0.00759, 0.00687, 0.00669,
          0.00705, 0.00597, 0.00633, 0.00705, 0.00597, 0.00579, 0.00525, 0.00453, 0.00453, 0.00561,
          0.00489, 0.00561, 0.00453, 0.00399, 0.00435, 0.00453, 0.00507, 0.00453, 0.00381, 0.00399,
          0.00381, 0.00363, 0.00327, 0.00273, 0.00291, 0.00255, 0.00273, 0.00237, 0.00273, 0.00219,
          0.00201, 0.00255, 0.00201, 0.00165, 0.00147, 0.00183, 0.00219, 0.00165, 0.00075, 0.00040,
          0.00058, 0.00130, 0.00184, 0.00130, 0.00184, 0.00094, 0.00058]

wn_t11 = [2242.89, 2242.56, 2242.32, 2242.03, 2241.70, 2241.37, 2241.08, 2240.75, 2240.41, 2240.13,
          2239.80, 2239.46, 2239.18, 2238.84, 2238.51, 2238.22, 2237.89, 2237.56, 2237.32, 2237.08,
          2236.84, 2236.65, 2236.51, 2236.37, 2236.22, 2236.13, 2235.99, 2235.85, 2235.37, 2235.04,
          2234.70, 2234.42, 2234.09, 2233.78, 2233.49, 2233.16, 2232.82, 2232.49, 2232.18, 2231.85,
          2231.56, 2231.23, 2230.75, 2230.28, 2229.96, 2229.48, 2229.01, 2228.69, 2228.29, 2227.89,
          2227.42, 2227.10, 2226.78, 2226.47, 2226.07, 2225.67, 2225.20, 2224.55, 2224.24, 2223.92,
          2223.60, 2223.28, 2222.97, 2222.65, 2222.17, 2221.70, 2221.22, 2220.74, 2220.27, 2219.87,
          2219.55, 2219.16, 2218.84, 2218.52, 2218.36, 2218.05, 2217.73, 2217.25, 2216.78, 2216.46,
          2216.14, 2215.82, 2215.51, 2215.19, 2214.71, 2214.24, 2213.60, 2213.21, 2212.89, 2212.49,
          2212.02, 2211.62, 2211.22, 2210.91, 2210.59, 2210.11, 2209.64, 2209.16, 2208.68, 2208.29,
          2207.89, 2207.41, 2207.02, 2206.62, 2206.30, 2205.98, 2205.75, 2205.35, 2204.87, 2204.40,
          2203.92, 2203.45, 2203.13, 2202.65, 2202.18, 2201.70, 2201.23, 2200.75, 2200.27, 2199.80,
          2199.32, 2198.84, 2198.37, 2197.89, 2197.42, 2196.94, 2196.46, 2196.07, 2195.67, 2195.19,
          2194.72, 2194.24, 2193.76, 2193.29, 2192.81, 2192.26]
ab_t11 = [0.05650, 0.05209, 0.04844, 0.04488, 0.04123, 0.03834, 0.03554, 0.03299, 0.03045, 0.02833,
          0.02612, 0.02434, 0.02255, 0.02110, 0.01932, 0.01822, 0.01712, 0.01644, 0.01602, 0.01678,
          0.02110, 0.02382, 0.02459, 0.02366, 0.01958, 0.01610, 0.01355, 0.01338, 0.01304, 0.01194,
          0.01050, 0.00965, 0.00956, 0.01007, 0.00914, 0.00880, 0.00914, 0.00838, 0.00770, 0.00745,
          0.00668, 0.00617, 0.00598, 0.00508, 0.00562, 0.00580, 0.00544, 0.00418, 0.00526, 0.00454,
          0.00418, 0.00382, 0.00310, 0.00256, 0.00364, 0.00238, 0.00292, 0.00274, 0.00328, 0.00310,
          0.00292, 0.00238, 0.00310, 0.00364, 0.00346, 0.00328, 0.00346, 0.00310, 0.00364, 0.00382,
          0.00346, 0.00400, 0.00382, 0.00490, 0.00526, 0.00454, 0.00382, 0.00328, 0.00364, 0.00256,
          0.00328, 0.00364, 0.00328, 0.00310, 0.00274, 0.00220, 0.00202, 0.00256, 0.00292, 0.00238,
          0.00220, 0.00238, 0.00202, 0.00130, 0.00166, 0.00166, 0.00166, 0.00184, 0.00166, 0.00238,
          0.00184, 0.00148, 0.00166, 0.00202, 0.00166, 0.00238, 0.00274, 0.00202, 0.00166, 0.00130,
          0.00076, 0.00040, 0.00058, 0.00076, 0.00130, 0.00148, 0.00148, 0.00130, 0.00094, 0.00130,
          0.00112, 0.00094, 0.00040, 0.00094, 0.00076, 0.00112, 0.00058, 0.00094, -0.00032, 0.00058,
          0.00076, 0.00112, 0.00148, 0.00094, 0.00040, 0.00076]

series_wn = [wn_t1, wn_t2, wn_t3, wn_t4, wn_t5, wn_t6, wn_t7, wn_t8, wn_t9, wn_t10, wn_t11]
series_ab = [ab_t1, ab_t2, ab_t3, ab_t4, ab_t5, ab_t6, ab_t7, ab_t8, ab_t9, ab_t10, ab_t11]
series_colors = ["#3ec83e", "#77307a", "#2424a4", "#2424a4", "#d6a040", "#77307a",
                 "#3ec83e", "#3ed8d8", "#247a24", "#c82424", "#d84ad8"]

x_ticks = [2245, 2240, 2235, 2230, 2225, 2220, 2215, 2210, 2205, 2200, 2195]
y_ticks = [0.000, 0.005, 0.010, 0.015, 0.020, 0.025, 0.030, 0.035, 0.040, 0.045, 0.050, 0.055]

# ---------------- figure ----------------
fig = go.Figure()
for wn, ab, col in zip(series_wn, series_ab, series_colors):
    fig.add_trace(go.Scatter(x=wn, y=ab, mode="lines",
                             line=dict(color=col, width=1.5, shape="spline", smoothing=1.2),
                             hoverinfo="skip"))

axis_font = dict(family="Liberation Sans, Arial, sans-serif", size=12, color="#3a3a3a")
serif = "Liberation Serif, Times New Roman, serif"

fig.update_layout(
    width=1323, height=726,
    margin=dict(l=80, r=105, t=15, b=47, autoexpand=False),
    paper_bgcolor="white", plot_bgcolor="white",
    showlegend=False,
    xaxis=dict(range=[2246.46, 2192.3], tickvals=x_ticks, ticks="outside", ticklen=5,
               tickwidth=1, tickcolor="#333", showline=True, linecolor="#b8b8b8", linewidth=2,
               showgrid=False, zeroline=False, tickfont=axis_font, automargin=False,
               minor=dict(dtick=1, tick0=2245, ticks="outside", ticklen=3, tickcolor="#333",
                          showgrid=False),
               title=dict(text="Wavenumbers (cm-1)", font=dict(family=axis_font["family"], size=11,
                                                               color="#3a3a3a"), standoff=13)),
    yaxis=dict(range=[-0.00073, 0.05565], tickvals=y_ticks, tickformat=".3f", ticks="outside",
               ticklen=5, tickwidth=1, tickcolor="#333", showline=True, linecolor="#b8b8b8",
               linewidth=2, showgrid=False, zeroline=False, tickfont=axis_font, automargin=False,
               title=dict(text="Absorbance", font=dict(family=axis_font["family"], size=11,
                                                      color="#3a3a3a"), standoff=17)),
)

annotations = [
    dict(xref="paper", yref="paper", x=-0.0589, y=1.019, xanchor="left", yanchor="middle",
         text="étude (figure IV.7).", showarrow=False,
         font=dict(family=serif, size=27, color="black")),
    dict(xref="paper", yref="paper", x=1.0185, y=0.9052, xanchor="center", yanchor="middle",
         text="T=1100°C", showarrow=False, font=dict(family=serif, size=27, color="black")),
    dict(xref="paper", yref="paper", x=1.0431, y=0.0155, xanchor="center", yanchor="middle",
         text="T=700°C", showarrow=False, font=dict(family=serif, size=27, color="black")),
    dict(xref="paper", yref="paper", x=1.0264, y=0.8796, ax=0, ay=542, text="",
         showarrow=True, arrowhead=2, arrowsize=1.3, arrowwidth=2, arrowcolor="black"),
    dict(xref="x", yref="y", x=2221.84, y=0.03257, xanchor="center", yanchor="middle",
         text="2019", showarrow=False, font=dict(family=serif, size=27, color="black")),
    dict(xref="x", yref="y", x=2217.18, y=0.03383, xanchor="left", yanchor="middle",
         text="2018 cm<sup>-1</sup>", showarrow=False,
         font=dict(family=serif, size=27, color="black")),
    dict(xref="x", yref="y", x=2219.32, y=0.02875, ax=-32, ay=-36, text="",
         showarrow=True, arrowhead=2, arrowsize=1.2, arrowwidth=2, arrowcolor="black"),
    dict(xref="x", yref="y", x=2217.98, y=0.0296, ax=20, ay=-38, text="",
         showarrow=True, arrowhead=2, arrowsize=1.2, arrowwidth=2, arrowcolor="black"),
]
fig.update_layout(annotations=annotations)

# the page's default 8px body margin would shift the whole chart; remove it
fig.write_html("out.html", config={"displayModeBar": False},
               post_script="document.body.style.margin='0';")
